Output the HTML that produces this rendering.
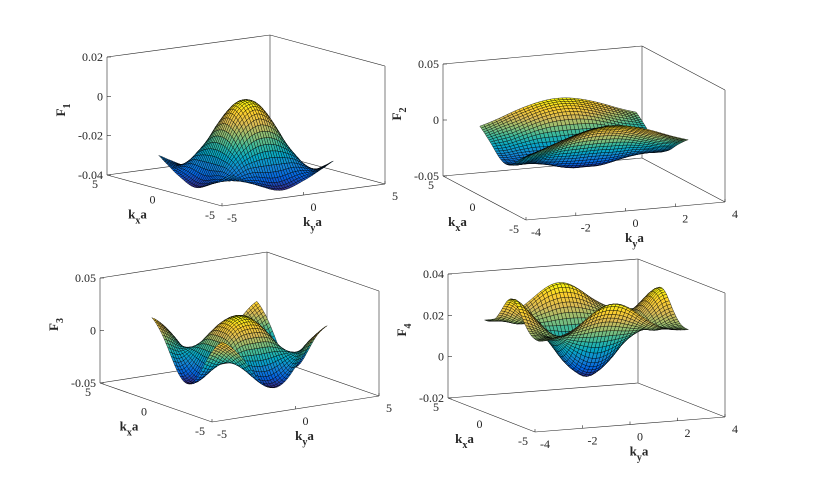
<!DOCTYPE html>
<html><head><meta charset="utf-8">
<style>
html,body{margin:0;padding:0;background:#fff;}
svg{display:block;}
</style></head>
<body>
<svg id="fig" width="830" height="496" viewBox="0 0 830 496" xmlns="http://www.w3.org/2000/svg"></svg>
<script>
// Radial sample points (r = 0..4.5 step 0.5) and profile values per panel
const radii = [0, 0.5, 1, 1.5, 2, 2.5, 3, 3.5, 4, 4.5];
const f1Base = [0.0005, -0.001, -0.006, -0.014, -0.023, -0.031, -0.036, -0.037, -0.034, -0.03];
const f1Ang  = [0, 0, 0, 0.001, 0.002, 0.004, 0.004, 0.003, 0.002, 0.001];
const f2Base = [-0.03, -0.028, -0.022, -0.015, -0.008, -0.004, -0.002, 0, 0, 0];
const f2Ang  = [0, -0.002, -0.006, -0.01, -0.015, -0.018, -0.02, -0.02, -0.02, -0.02];
const f3Base = [0.02, 0.018, 0.011, 0.0, -0.013, -0.022, -0.024, -0.017, -0.008, 0.0];
const f3Ang  = [0, 0, 0.001, 0.003, 0.006, 0.01, 0.013, 0.016, 0.016, 0.015];
const f4Base = [-0.005, -0.002, 0.004, 0.012, 0.019, 0.024, 0.027, 0.027, 0.025, 0.023];
const f4Ang  = [0, 0, 0, -0.001, -0.003, -0.005, -0.008, -0.007, -0.005, -0.003];
const angOrder = [4, 2, 4, 4];
const zTicks1 = [-0.04, -0.02, 0, 0.02];
const zTicks2 = [-0.05, 0, 0.05];
const zTicks3 = [-0.05, 0, 0.05];
const zTicks4 = [-0.02, 0, 0.02, 0.04];
const kTicks5 = [-5, 0, 5];
const kTicks4 = [-4, -2, 0, 2, 4];

const NS = "http://www.w3.org/2000/svg";
const svg = document.getElementById('fig');
const SERIF = "font-family:'Liberation Serif','Times New Roman',serif;fill:#262626;";
function mk(tag, attrs, parent){
  const e = document.createElementNS(NS, tag);
  for (const k in attrs) e.setAttribute(k, attrs[k]);
  (parent||svg).appendChild(e); return e;
}
const parula = [[53,42,135],[3,99,225],[20,133,212],[6,167,198],[56,185,158],[146,191,115],[217,186,86],[252,206,46],[249,251,14]];
function cmap(t){
  t = Math.max(0, Math.min(1, t)) * (parula.length - 1);
  const i = Math.min(parula.length - 2, Math.floor(t)), f = t - i;
  const a = parula[i], b = parula[i+1];
  return 'rgb(' + a.map((v,k)=>Math.round(v + (b[k]-v)*f)).join(',') + ')';
}
function smoothR(arr, r){
  const step = radii[1] - radii[0];
  let s = r / step;
  const n = arr.length;
  if (s >= n - 1) return arr[n-1];
  const i = Math.floor(s), f = s - i;
  const p1 = arr[i], p2 = arr[i+1], p3 = arr[Math.min(n-1, i+2)];
  const q0 = i === 0 ? arr[1] : arr[i-1];
  return 0.5*((2*p1) + (-q0+p2)*f + (2*q0-5*p1+4*p2-p3)*f*f + (-q0+3*p1-3*p2+p3)*f*f*f);
}
const panels = [
  {id:1, O:[222,206], vx:[-115,-31], vy:[163,-22], H:118, z:[-0.04,0.02], zt:zTicks1, kx:[-5,5], ky:[-5,5], kyt:kTicks5, base:f1Base, ang:f1Ang},
  {id:2, O:[526,220], vx:[-83,-44], vy:[199,-18], H:112, z:[-0.05,0.05], zt:zTicks2, kx:[-5,5], ky:[-4,4], kyt:kTicks4, base:f2Base, ang:f2Ang},
  {id:3, O:[212,422], vx:[-112,-39], vy:[167,-26], H:105, z:[-0.05,0.05], zt:zTicks3, kx:[-5,5], ky:[-5,5], kyt:kTicks5, base:f3Base, ang:f3Ang},
  {id:4, O:[535,432], vx:[-87,-34], vy:[190,-15], H:124, z:[-0.02,0.04], zt:zTicks4, kx:[-5,5], ky:[-4,4], kyt:kTicks4, base:f4Base, ang:f4Ang}
];
const D = Math.PI;
panels.forEach((p, pi) => {
  const g = mk('g', {});
  
  
  const P = (kx, ky, z) => {
    const u = (kx - p.kx[0])/(p.kx[1]-p.kx[0]);
    const w = (ky - p.ky[0])/(p.ky[1]-p.ky[0]);
    const t = (z - p.z[0])/(p.z[1]-p.z[0]);
    return [p.O[0] + u*p.vx[0] + w*p.vy[0], p.O[1] + u*p.vx[1] + w*p.vy[1] - t*p.H];
  };
  const L = (a, b, name) => {
    const l = mk('line', {x1:a[0].toFixed(1), y1:a[1].toFixed(1), x2:b[0].toFixed(1), y2:b[1].toFixed(1), stroke:'#262626', 'stroke-width':0.6}, g);
    
    
  };
  const TL = SERIF + 'font-size:12px;';
  const TT = SERIF + 'font-size:13px;font-weight:bold;';
  const [x0,x1] = p.kx, [y0,y1] = p.ky, [z0,z1] = p.z;
  L(P(x1,y0,z0), P(x1,y1,z0), 'back-bottom-left-edge');
  L(P(x1,y1,z0), P(x0,y1,z0), 'back-bottom-right-edge');
  L(P(x1,y1,z0), P(x1,y1,z1), 'back-vertical-edge');
  L(P(x1,y0,z1), P(x1,y1,z1), 'back-top-left-edge');
  L(P(x1,y1,z1), P(x0,y1,z1), 'back-top-right-edge');
  L(P(x0,y1,z0), P(x0,y1,z1), 'right-vertical-edge');
  L(P(x1,y0,z0), P(x1,y0,z1), 'z-axis-line');
  L(P(x1,y0,z0), P(x0,y0,z0), 'kx-axis-line');
  L(P(x0,y0,z0), P(x0,y1,z0), 'ky-axis-line');
  p.zt.forEach(v => {
    const a = P(x1,y0,v);
    L(a, [a[0]+4, a[1]], 'z-tick');
    const t = mk('text', {x:a[0]-4, y:a[1]+4, 'text-anchor':'end', style:TL}, g);
    
    
    t.textContent = v === 0 ? '0' : String(v);
  });
  kTicks5.forEach(v => {
    const a = P(v,y0,z0);
    const t = mk('text', {x:a[0]-12, y:a[1]+13, 'text-anchor':'middle', style:TL}, g);
    
    
    t.textContent = String(v);
  });
  p.kyt.forEach(v => {
    const a = P(x0,v,z0);
    L(a, [a[0], a[1]-3], 'ky-tick');
    const t = mk('text', {x:a[0]+10, y:a[1]+16, 'text-anchor':'middle', style:TL}, g);
    
    
    t.textContent = String(v);
  });
  const mx = P(0,y0,z0);
  const kt = mk('text', {x:mx[0]-27, y:mx[1]+28, 'text-anchor':'middle', style:TT}, g);
  
  
  kt.innerHTML = 'k<tspan dy="5" font-size="10">x</tspan><tspan dy="-5">a</tspan>';
  const my = P(x0,0,z0);
  const yt = mk('text', {x:my[0]+9, y:my[1]+31, 'text-anchor':'middle', style:TT}, g);
  
  
  yt.innerHTML = 'k<tspan dy="5" font-size="10">y</tspan><tspan dy="-5">a</tspan>';
  const zm = P(x1,y0,(z0+z1)/2);
  const ft = mk('text', {x:0, y:0, 'text-anchor':'middle', style:TT, transform:'translate(' + (zm[0]-42) + ',' + (zm[1]-6) + ') rotate(-90)'}, g);
  
  
  ft.innerHTML = 'F<tspan dy="5" font-size="10">' + p.id + '</tspan>';
  const N = 40;
  const n = angOrder[pi];
  const Z = [];
  let zmin = Infinity, zmax = -Infinity;
  for (let i = 0; i <= N; i++){
    Z.push([]);
    for (let j = 0; j <= N; j++){
      const kx = -D + 2*D*i/N, ky = -D + 2*D*j/N;
      const r = Math.hypot(kx, ky);
      const th = Math.atan2(ky, kx);
      const z = smoothR(p.base, r) - smoothR(p.ang, r)*Math.cos(n*th);
      Z[i].push(z); zmin = Math.min(zmin, z); zmax = Math.max(zmax, z);
    }
  }
  const quads = [];
  const ax = Math.abs(p.vy[0]), bx = Math.abs(p.vx[0]);
  for (let i = 0; i < N; i++) for (let j = 0; j < N; j++){
    const zc = (Z[i][j]+Z[i+1][j]+Z[i][j+1]+Z[i+1][j+1])/4;
    quads.push({i, j, zc, d: ax*(i+0.5) + bx*(j+0.5)});
  }
  quads.sort((a,b) => b.d - a.d);
  const sg = mk('g', {stroke:'#000', 'stroke-width':0.45, 'stroke-opacity':0.85, 'stroke-linejoin':'round'}, g);
  
  
  quads.forEach(q => {
    const pts = [[q.i,q.j],[q.i+1,q.j],[q.i+1,q.j+1],[q.i,q.j+1]].map(([a,b]) => {
      const kx = -D + 2*D*a/N, ky = -D + 2*D*b/N;
      return P(kx, ky, Z[a][b]).map(v=>v.toFixed(1)).join(',');
    }).join(' ');
    const poly = mk('polygon', {points:pts, fill:cmap((q.zc - zmin)/(zmax - zmin))}, sg);
    
    
  });
});
</script>
</body></html>
